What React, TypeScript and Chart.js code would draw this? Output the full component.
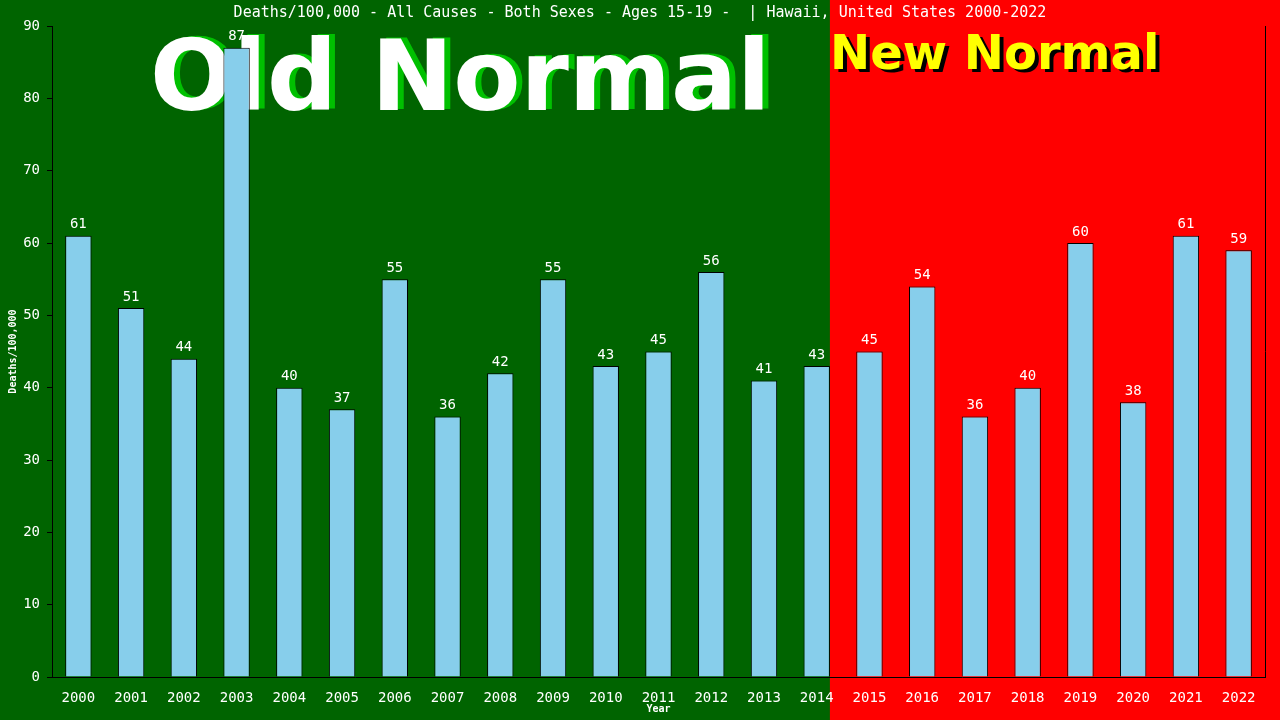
import { useRef, useEffect } from "react";
import { Chart, registerables } from "chart.js";

Chart.register(...registerables);

// Chart data
const years = [
  "2000", "2001", "2002", "2003", "2004", "2005", "2006", "2007", "2008", "2009", "2010", "2011",
  "2012", "2013", "2014", "2015", "2016", "2017", "2018", "2019", "2020", "2021", "2022",
];
const deaths = [61, 51, 44, 87, 40, 37, 55, 36, 42, 55, 43, 45, 56, 41, 43, 45, 54, 36, 40, 60, 38, 61, 59];
const yTicks = [0, 10, 20, 30, 40, 50, 60, 70, 80, 90];
const splitIndex = 14; // last "old normal" year

const title = "Deaths/100,000 - All Causes - Both Sexes - Ages 15-19 -  | Hawaii, United States 2000-2022";
const mono = '"DejaVu Sans Mono", monospace';

const backdrop = {
  id: "backdrop",
  beforeDraw(chart: Chart) {
    const { ctx, width, height } = chart;
    const x = chart.scales.x;
    const meta = chart.getDatasetMeta(0);
    const bar: any = meta.data[splitIndex];
    const split = bar ? bar.x + bar.width / 2 : x.getPixelForValue(splitIndex);
    ctx.save();
    ctx.fillStyle = "#006400";
    ctx.fillRect(0, 0, width, height);
    ctx.fillStyle = "#ff0000";
    ctx.fillRect(split, 0, width - split, height);
    ctx.restore();
  },
  beforeDatasetsDraw(chart: Chart) {
    const { ctx } = chart;
    ctx.save();
    ctx.textBaseline = "alphabetic";
    ctx.textAlign = "left";
    // Old Normal
    ctx.font = 'bold 98px "DejaVu Sans"';
    ctx.fillStyle = "#00c000";
    ctx.fillText("Old Normal", 156, 109);
    ctx.fillStyle = "#ffffff";
    ctx.fillText("Old Normal", 150, 110);
    // New Normal
    ctx.font = 'bold 48px "DejaVu Sans"';
    ctx.fillStyle = "#000000";
    ctx.fillText("New Normal", 834, 72);
    ctx.fillStyle = "#ffff00";
    ctx.fillText("New Normal", 830, 69);
    ctx.restore();
  },
  afterDatasetsDraw(chart: Chart) {
    const { ctx, chartArea } = chart;
    const meta = chart.getDatasetMeta(0);
    ctx.save();
    ctx.fillStyle = "#ffffff";
    ctx.font = `14px ${mono}`;
    ctx.textAlign = "center";
    ctx.textBaseline = "bottom";
    meta.data.forEach((el: any, i) => {
      ctx.fillText(String(deaths[i]), el.x, el.y - 4);
    });
    // right border
    ctx.strokeStyle = "#000000";
    ctx.lineWidth = 1;
    ctx.beginPath();
    ctx.moveTo(chartArea.right + 0.5, chartArea.top);
    ctx.lineTo(chartArea.right + 0.5, chartArea.bottom);
    ctx.stroke();
    ctx.restore();
  },
  afterDraw(chart: Chart) {
    const { ctx, chartArea } = chart;
    ctx.save();
    ctx.fillStyle = "#ffffff";
    ctx.textAlign = "center";
    ctx.textBaseline = "middle";
    ctx.font = `15px ${mono}`;
    ctx.fillText(title, 640, 13);
    ctx.font = `bold 10px ${mono}`;
    ctx.fillText("Year", (chartArea.left + chartArea.right) / 2, 709);
    ctx.translate(13, (chartArea.top + chartArea.bottom) / 2);
    ctx.rotate(-Math.PI / 2);
    ctx.fillText("Deaths/100,000", 0, 0);
    ctx.restore();
  },
};

export default function App() {
  const canvasRef = useRef<HTMLCanvasElement | null>(null);
  const chartRef = useRef<Chart | null>(null);

  useEffect(() => {
    document.body.style.margin = "0";
    if (chartRef.current) {
      chartRef.current.destroy();
      chartRef.current = null;
    }
    const canvas = canvasRef.current;
    if (!canvas) return;
    chartRef.current = new Chart(canvas, {
      type: "bar",
      data: {
        labels: years,
        datasets: [
          {
            label: "Deaths/100,000",
            data: deaths,
            backgroundColor: "#87ceeb",
            borderColor: "#000000",
            borderWidth: 1,
            barPercentage: 0.5,
            categoryPercentage: 1,
          },
        ],
      },
      options: {
        responsive: false,
        animation: false,
        layout: { padding: { top: 26, right: 15, left: 0, bottom: 0 } },
        plugins: {
          legend: { display: false },
          title: { display: false },
          tooltip: { enabled: false },
        },
        scales: {
          x: {
            grid: { display: false },
            border: { display: true, color: "#000000", width: 1 },
            ticks: { color: "#ffffff", font: { family: mono, size: 14 }, padding: 5, maxRotation: 0 },
            afterFit(scale: any) {
              scale.height = 43;
            },
          },
          y: {
            min: 0,
            max: 90,
            afterBuildTicks(scale: any) {
              scale.ticks = yTicks.map((v) => ({ value: v }));
            },
            grid: { drawOnChartArea: false, drawTicks: true, tickLength: 5, color: "#000000" },
            border: { display: true, color: "#000000", width: 1 },
            ticks: { color: "#ffffff", font: { family: mono, size: 14 }, padding: 7 },
            afterFit(scale: any) {
              scale.width = 52;
            },
          },
        },
      },
      plugins: [backdrop],
    });
    return () => {
      chartRef.current?.destroy();
    };
  }, []);

  return (
    <div style={{ width: 1280, height: 720 }}>
      <canvas ref={canvasRef} width={1280} height={720} />
    </div>
  );
}
